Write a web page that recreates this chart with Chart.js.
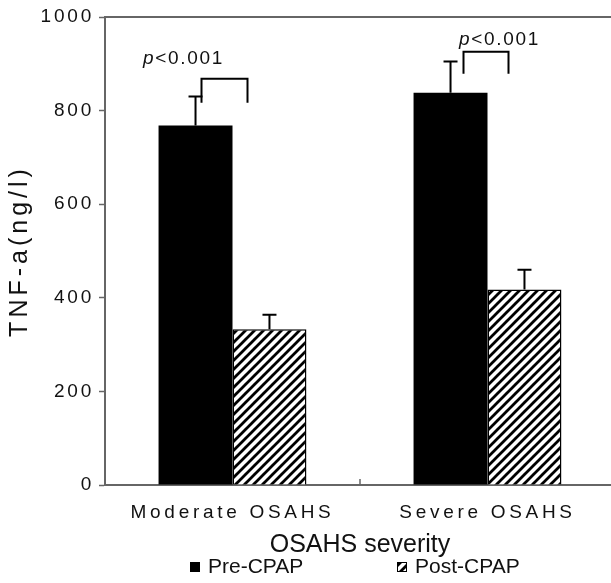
<!DOCTYPE html>
<html>
<head>
<meta charset="utf-8">
<script src="https://cdn.jsdelivr.net/npm/chart.js@4.4.0/dist/chart.umd.min.js"></script>
<style>
  html, body { margin: 0; padding: 0; background: #fff; overflow: hidden; }
</style>
</head>
<body>
<canvas id="grafico" width="630" height="583"></canvas>
<script>
// dados
var categorias = ['Moderate OSAHS', 'Severe OSAHS']
var preCpap = [768, 838]
var preCpapSd = [62, 67]
var postCpap = [333, 418]
var postCpapSd = [31, 42]
var yTicks = [0, 200, 400, 600, 800, 1000]
var pLabels = ['p<0.001', 'p<0.001']
var colcheteTopo = [868, 926]
var colcheteBase = [817, 879]
var pLabelY = [911, 952]

var FONTE = '"Liberation Sans", Arial, sans-serif'
var CINZA = '#666'
var TEXTO = '#111'

// offsets (px) em relacao ao centro da categoria
var colcheteDx = [[-31, 15], [-24, 21]]
var pLabelDx = [-49, 12]

function listras(){
  var c = document.createElement('canvas')
  c.width = 9; c.height = 9
  var g = c.getContext('2d')
  g.fillStyle = '#fff'
  g.fillRect(0, 0, 9, 9)
  g.strokeStyle = '#000'
  g.lineWidth = 2.8
  g.beginPath()
  g.moveTo(-1, 10); g.lineTo(10, -1)
  g.moveTo(-3, 3); g.lineTo(3, -3)
  g.moveTo(6, 12); g.lineTo(12, 6)
  g.stroke()
  return g.createPattern(c, 'repeat')
}
var hachura = listras()

// espacamento de letras nos eixos
var espacamento = {
  id: 'espacamento',
  beforeDraw: function(chart){
    var sp = { x: ['3.7px', '0px'], y: ['2.8px', '4px'] }
    Object.keys(sp).forEach(function(k){
      var s = chart.scales[k]
      if (s._espacado) return
      s._espacado = true
      ;['drawLabels', 'drawTitle'].forEach(function(m, j){
        var orig = s[m]
        s[m] = function(){
          var c = this.ctx, o = c.letterSpacing
          c.letterSpacing = sp[k][j]
          orig.apply(this, arguments)
          c.letterSpacing = o
        }
      })
    })
  }
}

var anotacoes = {
  id: 'anotacoes',
  afterDatasetsDraw: function(chart){
    var ctx = chart.ctx
    var x = chart.scales.x, y = chart.scales.y
    var area = chart.chartArea
    ctx.save()
    // moldura de cima
    ctx.strokeStyle = CINZA
    ctx.lineWidth = 2
    ctx.beginPath()
    ctx.moveTo(area.left, area.top)
    ctx.lineTo(area.right, area.top)
    ctx.stroke()
    // ticks internos do eixo x (entre categorias)
    var passo = (x.getPixelForValue(1) - x.getPixelForValue(0))
    ctx.lineWidth = 1.5
    for (var b = 0; b <= categorias.length; b++){
      var bx = x.getPixelForValue(0) - passo / 2 + b * passo
      ctx.beginPath()
      ctx.moveTo(bx, area.bottom)
      ctx.lineTo(bx, area.bottom - 6)
      ctx.stroke()
    }
    // barras de erro
    ctx.strokeStyle = '#000'
    ctx.lineWidth = 2
    var series = [[preCpap, preCpapSd], [postCpap, postCpapSd]]
    series.forEach(function(s, d){
      var meta = chart.getDatasetMeta(d)
      meta.data.forEach(function(bar, i){
        var y0 = y.getPixelForValue(s[0][i])
        var y1 = y.getPixelForValue(s[0][i] + s[1][i])
        ctx.beginPath()
        ctx.moveTo(bar.x, y0)
        ctx.lineTo(bar.x, y1)
        ctx.moveTo(bar.x - 7, y1)
        ctx.lineTo(bar.x + 7, y1)
        ctx.stroke()
      })
    })
    // colchetes + p
    categorias.forEach(function(c, i){
      var cx = x.getPixelForValue(i)
      var xl = cx + colcheteDx[i][0], xr = cx + colcheteDx[i][1]
      var yt = y.getPixelForValue(colcheteTopo[i]), yb = y.getPixelForValue(colcheteBase[i])
      ctx.beginPath()
      ctx.moveTo(xl, yb)
      ctx.lineTo(xl, yt)
      ctx.lineTo(xr, yt)
      ctx.lineTo(xr, yb)
      ctx.stroke()

      var txt = pLabels[i]
      ctx.fillStyle = TEXTO
      ctx.textBaseline = 'middle'
      ctx.textAlign = 'left'
      ctx.letterSpacing = '1.7px'
      ctx.font = 'italic 19px ' + FONTE
      var w1 = ctx.measureText(txt[0]).width
      ctx.font = '19px ' + FONTE
      var w2 = ctx.measureText(txt.slice(1)).width
      var px = cx + pLabelDx[i] - (w1 + w2) / 2
      var py = y.getPixelForValue(pLabelY[i])
      ctx.font = 'italic 19px ' + FONTE
      ctx.fillText(txt[0], px, py)
      ctx.font = '19px ' + FONTE
      ctx.fillText(txt.slice(1), px + w1, py)
      ctx.letterSpacing = '0px'
    })
    ctx.restore()
  },
  afterDraw: function(chart){
    // legenda
    var ctx = chart.ctx
    var posX = [190, 397]
    var yy = 567
    ctx.save()
    chart.data.datasets.forEach(function(ds, i){
      ctx.fillStyle = ds.backgroundColor
      ctx.fillRect(posX[i], yy - 5, 10, 10)
      if (ds.borderWidth){
        ctx.strokeStyle = '#000'
        ctx.lineWidth = 1
        ctx.strokeRect(posX[i] + 0.5, yy - 4.5, 9, 9)
      }
      ctx.fillStyle = TEXTO
      ctx.font = '21px ' + FONTE
      ctx.textBaseline = 'middle'
      ctx.fillText(ds.label, posX[i] + 18, yy)
    })
    ctx.restore()
  }
}

var grafico = new Chart(document.getElementById('grafico'), {
  type: 'bar',
  data: {
    labels: categorias,
    datasets: [
      { label: 'Pre-CPAP', data: preCpap, backgroundColor: '#000', borderWidth: 0 },
      { label: 'Post-CPAP', data: postCpap, backgroundColor: hachura, borderColor: '#000', borderWidth: 1.5 }
    ]
  },
  options: {
    responsive: false,
    animation: false,
    devicePixelRatio: 1,
    categoryPercentage: 0.58,
    barPercentage: 1,
    layout: { padding: { top: 17, right: 15, bottom: 23, left: 0 } },
    plugins: { legend: { display: false }, tooltip: { enabled: false } },
    scales: {
      x: {
        grid: { display: false },
        border: { display: true, color: CINZA, width: 2 },
        ticks: { font: { size: 19, family: FONTE }, color: TEXTO, padding: 8 },
        title: { display: true, text: 'OSAHS severity', font: { size: 25, family: FONTE }, color: TEXTO, padding: 0 },
        afterFit: function(s){ s.height = 75 }
      },
      y: {
        min: 0, max: 1000,
        afterBuildTicks: function(s){ s.ticks = yTicks.map(function(v){ return { value: v } }) },
        ticks: { font: { size: 19, family: FONTE }, color: TEXTO, padding: 5, callback: function(v){ return String(v) } },
        grid: { drawOnChartArea: false, drawTicks: true, tickLength: 6, tickColor: CINZA, tickWidth: 1.5 },
        border: { color: CINZA, width: 2 },
        title: { display: true, text: 'TNF-a(ng/l)', font: { size: 25, family: FONTE }, color: TEXTO, padding: { top: 5, bottom: 0 } },
        afterFit: function(s){ s.width = 105 }
      }
    }
  },
  plugins: [espacamento, anotacoes]
})
</script>
</body>
</html>
